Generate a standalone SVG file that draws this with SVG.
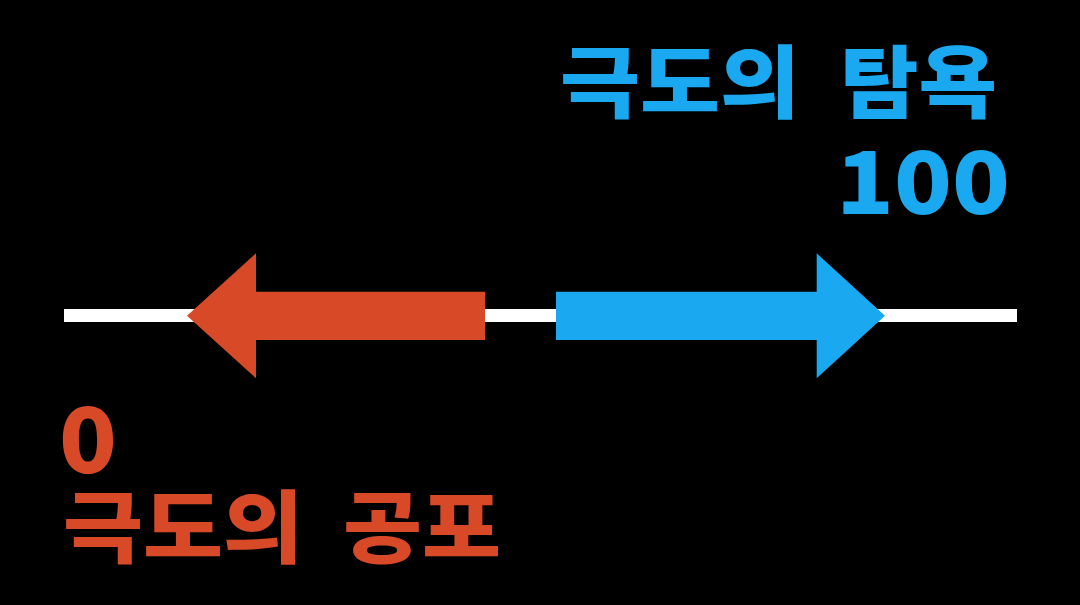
<svg xmlns="http://www.w3.org/2000/svg" width="1080" height="605" viewBox="0 0 1080 605">
<style>
.t{font-family:"Noto Sans CJK KR","Noto Sans",sans-serif;font-weight:900;}
.k{font-size:79px;}
.blue{fill:#1AA8F0;}
.red{fill:#D84A27;}
</style>
<rect x="0" y="0" width="1080" height="605" fill="#000"/>
<g id="connectors">
<rect id="axis" x="64" y="309" width="953" height="13" fill="#fff"/>
</g>
<g id="fear-arrow">
<polygon class="red" points="187,315.7 256,253.3 256,291.7 485,291.7 485,340 256,340 256,378.3"/>
</g>
<g id="greed-arrow">
<polygon class="blue" points="885,315.7 816.7,253.3 816.7,291.7 556,291.7 556,340 816.7,340 816.7,378.3"/>
</g>
<g id="greed-label">
<text class="t k blue" x="560" y="112" textLength="240" lengthAdjust="spacingAndGlyphs">극도의</text>
<text class="t k blue" x="840" y="112" textLength="157" lengthAdjust="spacingAndGlyphs">탐욕</text>
<text class="t blue" font-size="87" x="836" y="214" textLength="174" lengthAdjust="spacingAndGlyphs">100</text>
</g>
<g id="fear-label">
<text class="t red" font-size="90" x="59" y="473" textLength="58" lengthAdjust="spacingAndGlyphs">0</text>
<text class="t k red" x="63" y="557" textLength="240" lengthAdjust="spacingAndGlyphs">극도의</text>
<text class="t k red" x="343" y="557" textLength="158" lengthAdjust="spacingAndGlyphs">공포</text>
</g>
</svg>
